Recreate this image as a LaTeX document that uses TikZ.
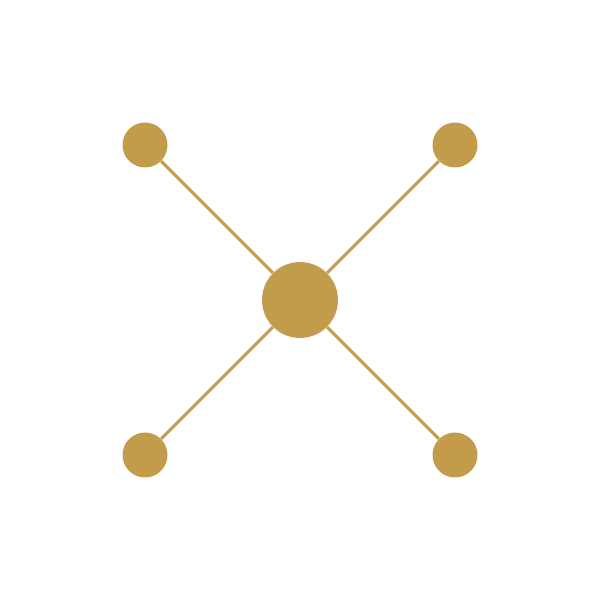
\documentclass[tikz,border=0pt]{standalone}
\usepackage{tikz}

\definecolor{gold}{HTML}{C29C4A}

\begin{document}
\begin{tikzpicture}[
	hub/.style={circle, fill=gold, inner sep=0pt, minimum size=1.52cm},
	leaf/.style={circle, fill=gold, inner sep=0pt, minimum size=0.9cm},
	link/.style={draw=gold, line width=1.7pt}]
	\useasboundingbox (0, 0) rectangle (12, 12);

	\node [hub] (C) at (6, 6) {};
	\node [leaf] (NW) at (2.9, 9.1) {};
	\node [leaf] (NE) at (9.1, 9.1) {};
	\node [leaf] (SW) at (2.9, 2.9) {};
	\node [leaf] (SE) at (9.1, 2.9) {};

	\foreach \n in {NW, NE, SW, SE}
		\draw [link] (C) -- (\n);
\end{tikzpicture}
\end{document}
